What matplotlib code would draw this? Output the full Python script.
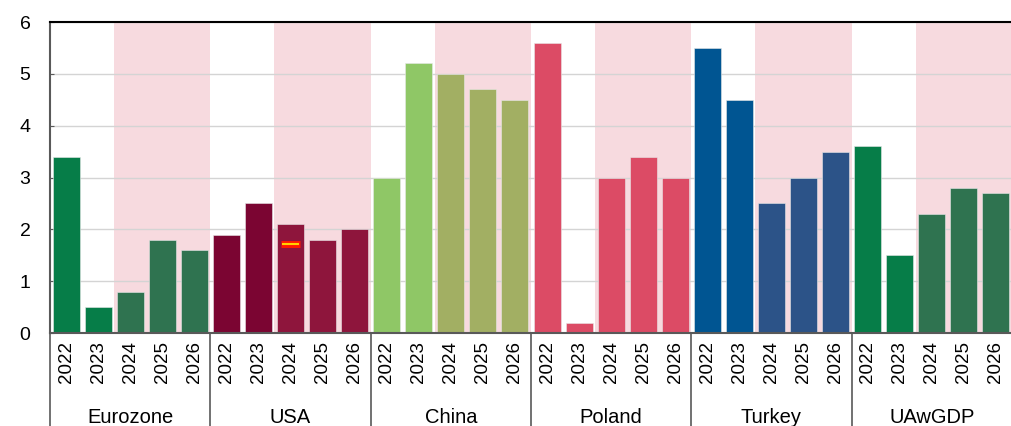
import numpy as np
import matplotlib.pyplot as plt
import matplotlib.transforms as mtransforms

plt.rcParams['font.family'] = ['Liberation Sans', 'DejaVu Sans']

# Данные
groups = ["Eurozone", "USA", "China", "Poland", "Turkey", "UAwGDP"]
years = ["2022", "2023", "2024", "2025", "2026"]
eurozone = [3.4, 0.5, 0.8, 1.8, 1.6]
usa = [1.9, 2.5, 2.1, 1.8, 2.0]
china = [3.0, 5.2, 5.0, 4.7, 4.5]
poland = [5.6, 0.2, 3.0, 3.4, 3.0]
turkey = [5.5, 4.5, 2.5, 3.0, 3.5]
uawgdp = [3.6, 1.5, 2.3, 2.8, 2.7]
values = [eurozone, usa, china, poland, turkey, uawgdp]
n_actual = 2  # 2022-2023 факт, дальше прогноз
usa_marker_2024 = 1.72

# цвета (факт, прогноз)
colors = [
    ("#067d48", "#2f7350"),
    ("#7b0532", "#8e153c"),
    ("#8fc766", "#a2af63"),
    ("#dc4b65", "#dc4b65"),
    ("#005592", "#2c5388"),
    ("#067d48", "#2f7350"),
]
shade = "#f7dadf"

fig = plt.figure(figsize=(10.12, 4.26), dpi=100)
ax = fig.add_axes([50 / 1012, 93 / 426, 962 / 1012, 311 / 426])

n = len(years)
x_all = []
for gi, vals in enumerate(values):
    x = np.arange(n) + gi * n
    x_all.extend(x)
    # прогнозная зона
    ax.axvspan(x[n_actual] - 0.5, x[-1] + 0.5, color=shade, zorder=0, lw=0)
    cols = [colors[gi][0] if i < n_actual else colors[gi][1] for i in range(n)]
    ax.bar(x, vals, width=0.84, color=cols, edgecolor="#e8e8e8",
           linewidth=0.4, zorder=2)

# отметка на USA 2024
xm = n + 2
ax.plot([xm - 0.3, xm + 0.3], [usa_marker_2024] * 2, color="#ff1a00",
        lw=5, solid_capstyle="butt", zorder=3)
ax.plot([xm - 0.25, xm + 0.25], [usa_marker_2024] * 2, color="#ffd200",
        lw=1.5, solid_capstyle="butt", zorder=4)

ax.set_xlim(-0.5, len(groups) * n - 0.5)
ax.set_ylim(0, 6)
ax.set_yticks(range(7))
ax.yaxis.grid(True, color="#d4d4d4", lw=1, zorder=1)
ax.set_axisbelow(True)
ax.tick_params(axis="y", labelsize=14, direction="in", length=3,
               color="#595959", pad=14)

ax.set_xticks(x_all)
ax.set_xticklabels(years * len(groups), rotation=90, fontsize=13.5)
ax.tick_params(axis="x", direction="in", length=3, color="#595959", pad=6)

for s in ["left", "bottom"]:
    ax.spines[s].set_color("#595959")
    ax.spines[s].set_linewidth(1.5)
ax.spines["top"].set_color("black")
ax.spines["top"].set_linewidth(1.5)
ax.spines["right"].set_visible(False)

# подписи групп и разделители
trans = mtransforms.blended_transform_factory(ax.transData, ax.transAxes)
for gi, g in enumerate(groups):
    left = gi * n - 0.5
    ax.plot([left, left], [0, -0.32], transform=trans, color="#595959",
            lw=1.2, clip_on=False)
    ax.text(gi * n + (n - 1) / 2, -0.272, g, transform=trans, ha="center",
            va="center", fontsize=14.5)

fig.savefig("out.png", dpi=100)
